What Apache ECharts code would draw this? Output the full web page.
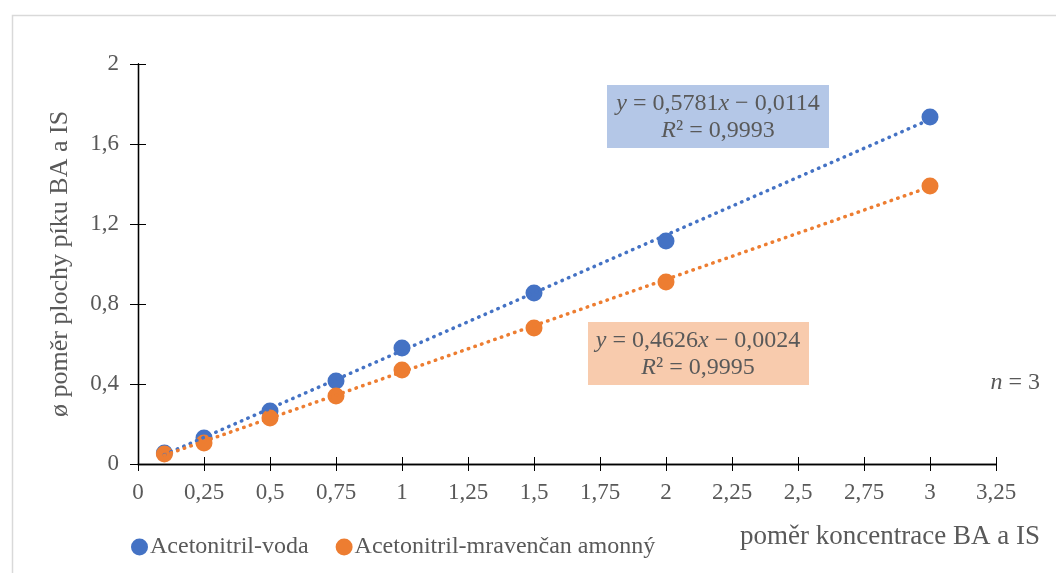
<!DOCTYPE html>
<html>
<head>
<meta charset="utf-8">
<script src="https://cdn.jsdelivr.net/npm/echarts@6/dist/echarts.min.js"></script>
<style>
  html, body { margin: 0; padding: 0; background: #fff; }
  #chart { width: 1056px; height: 573px; }
</style>
</head>
<body>
<div id="chart"></div>
<script>
// Measured ratios: concentration ratio BA/IS vs. mean peak-area ratio
const concentrations = [0.1, 0.25, 0.5, 0.75, 1, 1.5, 2, 3];
const waterValues   = [0.055, 0.13, 0.265, 0.415, 0.58, 0.855, 1.115, 1.735];
const formateValues = [0.05, 0.105, 0.23, 0.34, 0.47, 0.68, 0.91, 1.39];

const seriesNames = ['Acetonitril-voda', 'Acetonitril-mravenčan amonný'];

// Linear regression results (slope, intercept) shown in the equation boxes
const waterFit   = { slope: 0.5781, intercept: -0.0114, r2: '0,9993' };
const formateFit = { slope: 0.4626, intercept: -0.0024, r2: '0,9995' };

const xTicks = [0, 0.25, 0.5, 0.75, 1, 1.25, 1.5, 1.75, 2, 2.25, 2.5, 2.75, 3, 3.25];
const yTicks = [0, 0.4, 0.8, 1.2, 1.6, 2];

const BLUE = '#4472c4';
const ORANGE = '#ed7d31';
const TEXT = '#595959';
const FONT = '"Liberation Serif", "DejaVu Serif", serif';

const comma = v => String(+v.toFixed(4)).replace('.', ',');

function trend(fit) {
  const x0 = concentrations[0];
  const x1 = concentrations[concentrations.length - 1];
  return [[x0, fit.slope * x0 + fit.intercept], [x1, fit.slope * x1 + fit.intercept]];
}

function pairs(ys) { return concentrations.map((x, i) => [x, ys[i]]); }

function eqText(fit) {
  const sign = fit.intercept < 0 ? ' − ' : ' + ';
  return '{i|y} = ' + comma(fit.slope) + '{i|x}' + sign + comma(Math.abs(fit.intercept)) +
         '\n{i|R}² = ' + fit.r2;
}

const chart = echarts.init(document.getElementById('chart'), null, { renderer: 'canvas' });

const commonAxis = {
  axisLine: { show: true, onZero: false, lineStyle: { color: '#000', width: 1.3 } },
  splitLine: { show: false }
};

const richStyle = {
  i: { fontStyle: 'italic', fontFamily: FONT, fontSize: 24, fill: TEXT, color: TEXT }
};

chart.setOption({
  animation: false,
  backgroundColor: '#fff',
  grid: { left: 138, right: 60, top: 64, bottom: 109 },
  legend: {
    left: 126, top: 530,
    icon: 'circle', itemWidth: 17, itemHeight: 17, itemGap: 27,
    data: seriesNames,
    textStyle: { fontFamily: FONT, fontSize: 24, color: TEXT, padding: [0, 0, 0, -3] }
  },
  xAxis: [
    Object.assign({
      type: 'value', min: 0, max: 3.25, interval: 0.25,
      axisTick: { show: true, length: 7, lineStyle: { color: '#000' } },
      axisLabel: { margin: 17, fontFamily: FONT, fontSize: 23, color: TEXT, formatter: v => comma(v) }
    }, commonAxis),
    Object.assign({
      type: 'value', min: 0, max: 3.25, interval: 0.25, position: 'bottom',
      axisTick: { show: true, inside: true, length: 7, lineStyle: { color: '#000' } },
      axisLabel: { show: false }
    }, commonAxis)
  ],
  yAxis: [
    Object.assign({
      type: 'value', min: 0, max: 2, interval: 0.4,
      name: 'ø poměr plochy píku BA a IS', nameLocation: 'middle', nameGap: 65,
      nameTextStyle: { fontFamily: FONT, fontSize: 26, color: TEXT },
      axisTick: { show: true, length: 8, lineStyle: { color: '#000' } },
      axisLabel: { margin: 19, fontFamily: FONT, fontSize: 23, color: TEXT, formatter: v => comma(v) }
    }, commonAxis),
    Object.assign({
      type: 'value', min: 0, max: 2, interval: 0.4, position: 'left',
      axisTick: { show: true, inside: true, length: 8, lineStyle: { color: '#000' } },
      axisLabel: { show: false }
    }, commonAxis)
  ],
  series: [
    {
      name: seriesNames[0], type: 'scatter', data: pairs(waterValues),
      symbol: 'circle', symbolSize: 17, itemStyle: { color: BLUE, opacity: 1 }, z: 3
    },
    {
      name: seriesNames[1], type: 'scatter', data: pairs(formateValues),
      symbol: 'circle', symbolSize: 17, itemStyle: { color: ORANGE, opacity: 1 }, z: 3
    },
    {
      type: 'line', data: trend(waterFit), symbol: 'none', silent: true, z: 4,
      lineStyle: { color: BLUE, width: 3.5, type: [0.5, 6.5], cap: 'round' }
    },
    {
      type: 'line', data: trend(formateFit), symbol: 'none', silent: true, z: 4,
      lineStyle: { color: ORANGE, width: 3.5, type: [0.5, 6.5], cap: 'round' }
    }
  ],
  graphic: [
    { type: 'rect', left: 10, top: 13, z: 0,
      shape: { width: 1100, height: 620 },
      style: { fill: 'none', stroke: '#d9d9d9', lineWidth: 1.5 } },
    // equation box, water series
    { type: 'rect', left: 607, top: 85, z: 5,
      shape: { width: 222, height: 63 }, style: { fill: '#b4c7e7' } },
    { type: 'text', x: 718, y: 90, z: 6,
      style: { text: eqText(waterFit), rich: richStyle, align: 'center', verticalAlign: 'top',
               fontFamily: FONT, fontSize: 24, fill: TEXT, lineHeight: 27 } },
    // equation box, formate series
    { type: 'rect', left: 588, top: 322, z: 5,
      shape: { width: 221, height: 63 }, style: { fill: '#f8cbad' } },
    { type: 'text', x: 698, y: 327, z: 6,
      style: { text: eqText(formateFit), rich: richStyle, align: 'center', verticalAlign: 'top',
               fontFamily: FONT, fontSize: 24, fill: TEXT, lineHeight: 27 } },
    // sample count
    { type: 'text', x: 1040, y: 383, z: 6,
      style: { text: '{i|n} = 3', rich: richStyle, align: 'right', verticalAlign: 'middle',
               fontFamily: FONT, fontSize: 24, fill: TEXT } },
    // x-axis title
    { type: 'text', x: 1040, y: 537, z: 6,
      style: { text: 'poměr koncentrace BA a IS', align: 'right', verticalAlign: 'middle',
               fontFamily: FONT, fontSize: 27, fill: TEXT } }
  ]
});
</script>
</body>
</html>
